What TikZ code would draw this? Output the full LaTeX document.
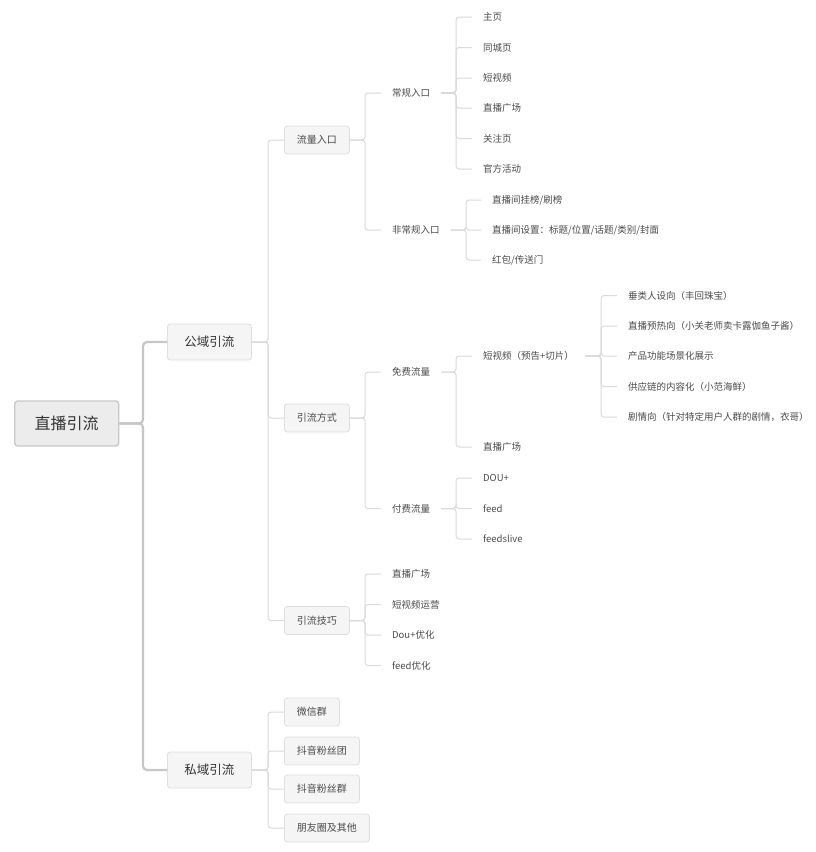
\documentclass[tikz,border=0pt]{standalone}
\usepackage{fontspec}
\setmainfont{Noto Sans CJK SC}
\usetikzlibrary{calc}
\definecolor{lineA}{HTML}{C6C6C6}
\definecolor{lineB}{HTML}{DADADA}
\definecolor{boxA}{HTML}{C8C8C8}
\definecolor{fillA}{HTML}{ECECEC}
\definecolor{boxB}{HTML}{DEDEDE}
\definecolor{fillB}{HTML}{F5F5F5}
\definecolor{txtA}{HTML}{333333}
\definecolor{txtB}{HTML}{4A4A4A}
\begin{document}
\begin{tikzpicture}[x=1pt,y=-1pt,
  trunk/.style={draw=lineA, line width=2.2pt, rounded corners=4pt},
  conn/.style={draw=lineB, line width=1pt, rounded corners=3pt},
  rootbox/.style={draw=boxA, fill=fillA, line width=1.4pt, rounded corners=3pt, minimum height=45pt, minimum width=104pt, inner xsep=0pt, font=\fontsize{16}{18}\selectfont, text=txtA, anchor=west},
  mainbox/.style={draw=boxB, fill=fillB, line width=0.8pt, rounded corners=3pt, minimum height=36pt, minimum width=84pt, inner xsep=0pt, font=\fontsize{12.5}{14}\selectfont, text=txtA, anchor=west},
  subbox/.style={draw=boxB, fill=fillB, line width=0.8pt, rounded corners=3pt, minimum height=28pt, inner xsep=12.5pt, font=\fontsize{10}{12}\selectfont, text=txtB, anchor=west},
  leaf/.style={inner xsep=11pt, inner ysep=2pt, font=\fontsize{9.5}{11}\selectfont, text=txtB, anchor=west},
]
\useasboundingbox (0,0) rectangle (816,852);
\fill[white] (0,0) rectangle (816,852);

% vertical guide coordinates
\coordinate (vT) at (143,0);
\coordinate (vA) at (268,0);
\coordinate (vB) at (365,0);
\coordinate (vC) at (456,0);
\coordinate (vD) at (466,0);
\coordinate (vE) at (601,0);

% level 0-1
\node[rootbox] (root) at (14,423.5) {直播引流};
\node[mainbox] (pub) at (167,342) {公域引流};
\node[mainbox] (pri) at (167,770) {私域引流};
\draw[trunk] (root.east) -- (root.east -| vT) |- (pub.west);
\draw[trunk] (root.east) -- (root.east -| vT) |- (pri.west);

% level 2 (public)
\node[subbox] (flow) at (284,140) {流量入口};
\node[subbox] (way) at (284,418) {引流方式};
\node[subbox] (tip) at (284,620.5) {引流技巧};
\foreach \c in {flow,way,tip}{\draw[conn] (pub.east) -- (pub.east -| vA) |- (\c.west);}

% level 2 (private)
\node[subbox] (wx) at (284,712) {微信群};
\node[subbox] (dyt) at (284,751) {抖音粉丝团};
\node[subbox] (dyq) at (284,789) {抖音粉丝群};
\node[subbox] (pyq) at (284,828) {朋友圈及其他};
\foreach \c in {wx,dyt,dyq,pyq}{\draw[conn] (pri.east) -- (pri.east -| vA) |- (\c.west);}

% 流量入口
\node[leaf] (cg) at (381,93) {常规入口};
\node[leaf] (fcg) at (381,230) {非常规入口};
\foreach \c in {cg,fcg}{\draw[conn] (flow.east) -- (flow.east -| vB) |- (\c.west);}

\node[leaf] (a1) at (472,17) {主页};
\node[leaf] (a2) at (472,47.5) {同城页};
\node[leaf] (a3) at (472,78) {短视频};
\node[leaf] (a4) at (472,108) {直播广场};
\node[leaf] (a5) at (472,138.5) {关注页};
\node[leaf] (a6) at (472,169) {官方活动};
\foreach \c in {a1,a2,a3,a4,a5,a6}{\draw[conn] (cg.east) -- (cg.east -| vC) |- (\c.west);}

\node[leaf] (b1) at (481,200) {直播间挂榜/刷榜};
\node[leaf] (b2) at (481,230) {直播间设置：标题/位置/话题/类别/封面};
\node[leaf] (b3) at (481,260) {红包/传送门};
\foreach \c in {b1,b2,b3}{\draw[conn] (fcg.east) -- (fcg.east -| vD) |- (\c.west);}

% 引流方式
\node[leaf] (free) at (381,372) {免费流量};
\node[leaf] (paid) at (381,508.5) {付费流量};
\foreach \c in {free,paid}{\draw[conn] (way.east) -- (way.east -| vB) |- (\c.west);}

\node[leaf] (sv) at (472,356) {短视频（预告+切片）};
\node[leaf] (zb) at (472,447) {直播广场};
\foreach \c in {sv,zb}{\draw[conn] (free.east) -- (free.east -| vC) |- (\c.west);}

\node[leaf] (s1) at (617,295.5) {垂类人设向（丰回珠宝）};
\node[leaf] (s2) at (617,326) {直播预热向（小关老师卖卡露伽鱼子酱）};
\node[leaf] (s3) at (617,356) {产品功能场景化展示};
\node[leaf] (s4) at (617,386.5) {供应链的内容化（小范海鲜）};
\node[leaf] (s5) at (617,417) {剧情向（针对特定用户人群的剧情，衣哥）};
\foreach \c in {s1,s2,s3,s4,s5}{\draw[conn] (sv.east) -- (sv.east -| vE) |- (\c.west);}

\node[leaf] (p1) at (472,478) {DOU+};
\node[leaf] (p2) at (472,508.5) {feed};
\node[leaf] (p3) at (472,539) {feedslive};
\foreach \c in {p1,p2,p3}{\draw[conn] (paid.east) -- (paid.east -| vC) |- (\c.west);}

% 引流技巧
\node[leaf] (t1) at (381,574) {直播广场};
\node[leaf] (t2) at (381,604.5) {短视频运营};
\node[leaf] (t3) at (381,635) {Dou+优化};
\node[leaf] (t4) at (381,665.5) {feed优化};
\foreach \c in {t1,t2,t3,t4}{\draw[conn] (tip.east) -- (tip.east -| vB) |- (\c.west);}
\end{tikzpicture}
\end{document}
